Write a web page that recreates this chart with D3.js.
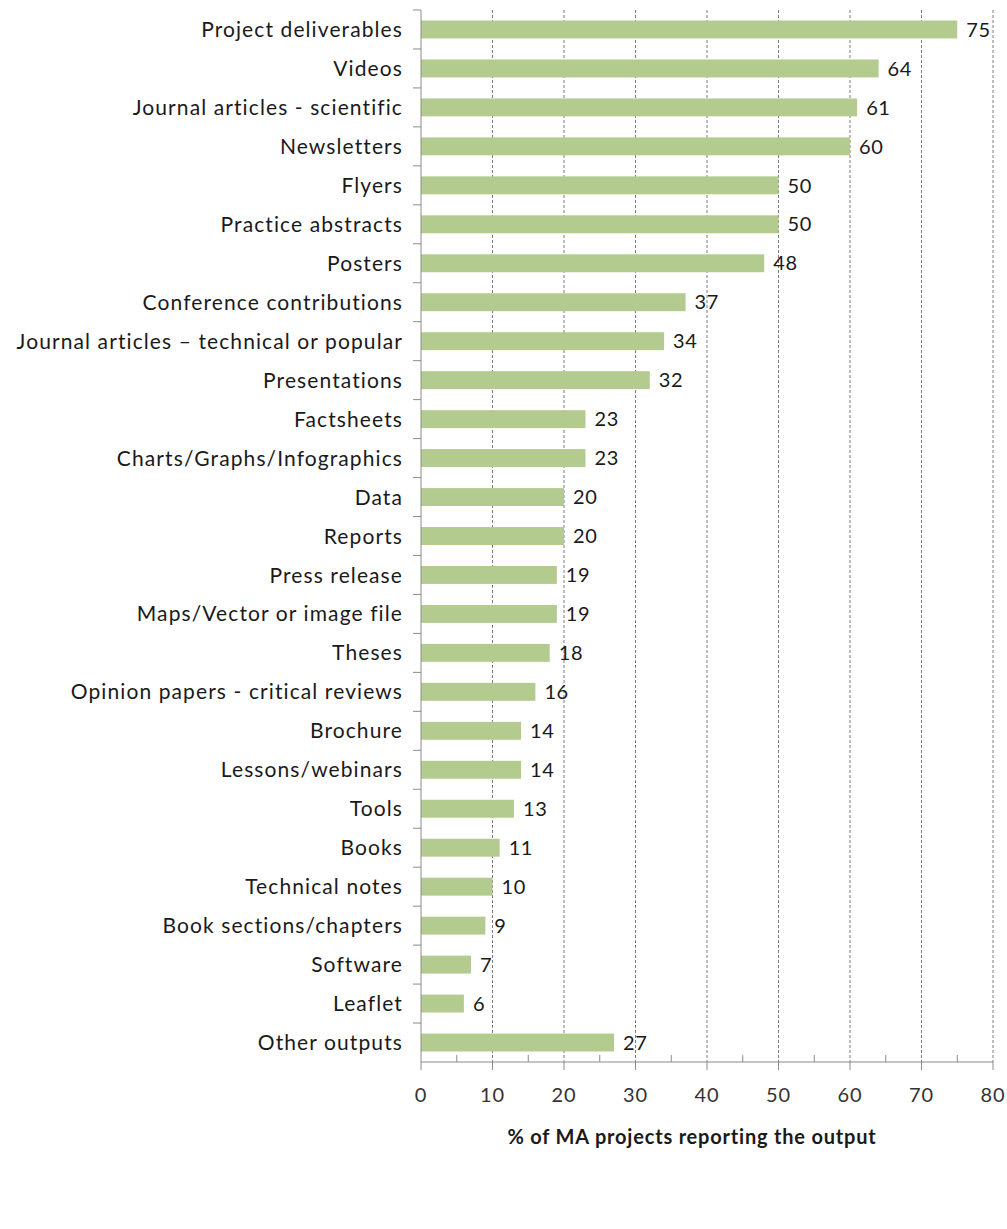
<!DOCTYPE html>
<html>
<head>
<meta charset="utf-8">
<script src="https://cdn.jsdelivr.net/npm/d3@7"></script>
<style>
  body { margin: 0; background: #fff; }
  svg { display: block; font-family: Lato, "Open Sans", sans-serif; }
  .grid line { stroke: #7a7a7a; stroke-dasharray: 3,2; stroke-width: 1; }
  .cat { font-size: 21px; letter-spacing: 1.1px; fill: #1a1a1a; }
  .val { font-size: 20px; letter-spacing: 0.6px; fill: #1a1a1a; }
  .xlab { font-size: 20px; letter-spacing: 0.8px; fill: #333; }
  .title { font-size: 20px; font-weight: bold; letter-spacing: 0.8px; fill: #1a1a1a; }
</style>
</head>
<body>
<svg id="chart"></svg>
<script>
// categories, top to bottom
const categories = [
  'Project deliverables', 'Videos', 'Journal articles - scientific', 'Newsletters',
  'Flyers', 'Practice abstracts', 'Posters', 'Conference contributions',
  'Journal articles \u2013 technical or popular', 'Presentations', 'Factsheets',
  'Charts/Graphs/Infographics', 'Data', 'Reports', 'Press release',
  'Maps/Vector or image file', 'Theses', 'Opinion papers - critical reviews',
  'Brochure', 'Lessons/webinars ', 'Tools', 'Books', 'Technical notes',
  'Book sections/chapters', 'Software', 'Leaflet', 'Other outputs'
];
const values = [75, 64, 61, 60, 50, 50, 48, 37, 34, 32, 23, 23, 20, 20, 19, 19, 18, 16, 14, 14, 13, 11, 10, 9, 7, 6, 27];
const xTicks = [0, 10, 20, 30, 40, 50, 60, 70, 80];
const xMinorTicks = [5, 15, 25, 35, 45, 55, 65, 75];
const axisTitle = '% of MA projects reporting the output';

const W = 1007, H = 1229;
const margin = {top: 10, left: 421, right: 14, bottom: 167};
const width = W - margin.left - margin.right;
const height = H - margin.top - margin.bottom;

const svg = d3.select('#chart').attr('width', W).attr('height', H);
const g = svg.append('g')
    .attr('transform', 'translate(' + margin.left + ',' + margin.top + ')');

const x = d3.scaleLinear().domain([0, 80]).range([0, width]);
const y = d3.scaleBand().domain(categories).range([0, height]).paddingInner(0.54).paddingOuter(0.27);
const step = y.step();

// dashed gridlines
g.append('g').attr('class', 'grid')
  .selectAll('line')
  .data(xTicks.slice(1))
  .join('line')
    .attr('x1', d => x(d)).attr('x2', d => x(d))
    .attr('y1', 0).attr('y2', height);

// bars
g.selectAll('rect.bar')
  .data(values)
  .join('rect')
    .attr('class', 'bar')
    .attr('x', 0)
    .attr('y', (d, i) => y(categories[i]))
    .attr('width', d => x(d))
    .attr('height', y.bandwidth())
    .attr('fill', '#b3cb8e');

// value labels
g.selectAll('text.val')
  .data(values)
  .join('text')
    .attr('class', 'val')
    .attr('x', d => x(d) + 9)
    .attr('y', (d, i) => y(categories[i]) + y.bandwidth() / 2)
    .attr('dy', '0.36em')
    .text(d => d);

// category labels
g.selectAll('text.cat')
  .data(categories)
  .join('text')
    .attr('class', 'cat')
    .attr('x', -18)
    .attr('y', d => y(d) + y.bandwidth() / 2)
    .attr('dy', '0.36em')
    .attr('text-anchor', 'end')
    .text(d => d);

// y axis line with boundary ticks
const axisColor = '#8c8c8c';
g.append('line')
    .attr('x1', 0).attr('x2', 0).attr('y1', 0).attr('y2', height)
    .attr('stroke', axisColor);
g.selectAll('line.ytick')
  .data(d3.range(categories.length))
  .join('line')
    .attr('class', 'ytick')
    .attr('x1', -8).attr('x2', 0)
    .attr('y1', i => i * step).attr('y2', i => i * step)
    .attr('stroke', axisColor);

// x axis
g.append('line')
    .attr('x1', 0).attr('x2', width).attr('y1', height).attr('y2', height)
    .attr('stroke', axisColor);
g.selectAll('line.xmajor')
  .data(xTicks)
  .join('line')
    .attr('class', 'xmajor')
    .attr('x1', d => x(d)).attr('x2', d => x(d))
    .attr('y1', height).attr('y2', height + 8)
    .attr('stroke', axisColor);
g.selectAll('line.xminor')
  .data(xMinorTicks)
  .join('line')
    .attr('class', 'xminor')
    .attr('x1', d => x(d)).attr('x2', d => x(d))
    .attr('y1', height - 7).attr('y2', height)
    .attr('stroke', axisColor);
g.selectAll('text.xlab')
  .data(xTicks)
  .join('text')
    .attr('class', 'xlab')
    .attr('x', d => x(d))
    .attr('y', height + 33)
    .attr('dy', '0.36em')
    .attr('text-anchor', 'middle')
    .text(d => d);

g.append('text')
    .attr('class', 'title')
    .attr('x', width / 2 - 15)
    .attr('y', height + 75)
    .attr('dy', '0.36em')
    .attr('text-anchor', 'middle')
    .text(axisTitle);
</script>
</body>
</html>
